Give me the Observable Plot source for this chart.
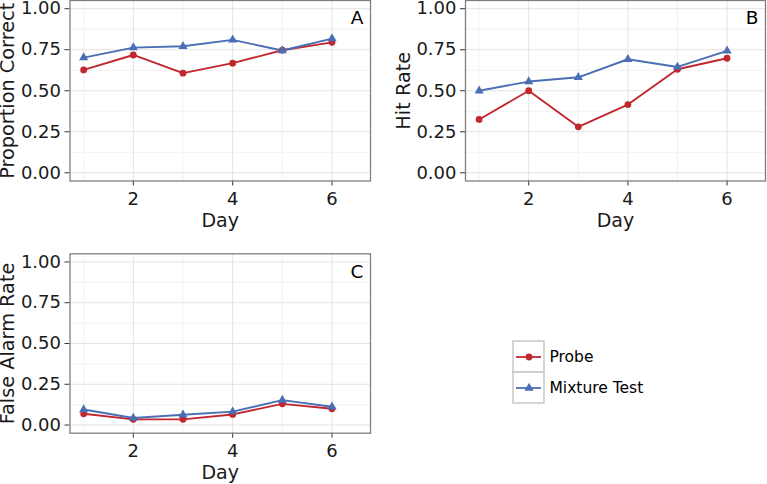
<!DOCTYPE html>
<html><head><meta charset="utf-8">
<script src="https://cdn.jsdelivr.net/npm/d3@7"></script>
<script src="https://cdn.jsdelivr.net/npm/@observablehq/plot@0.6"></script>
<style>
body{margin:0;background:#fff}
#chart{position:relative;width:767px;height:484px;overflow:hidden;background:#fff}
#chart svg{position:absolute;overflow:visible}
</style></head><body><div id="chart"></div>
<script>
const days = [1, 2, 3, 4, 5, 6];
const seriesNames = ["Probe", "Mixture Test"];
const seriesColors = ["#c1272d", "#4a6fb5"];
const seriesSymbols = ["circle", "triangle"];
const propCorrectProbe   = [0.627, 0.718, 0.607, 0.668, 0.747, 0.795];
const propCorrectMixture = [0.702, 0.763, 0.771, 0.810, 0.745, 0.818];
const hitRateProbe       = [0.325, 0.500, 0.280, 0.416, 0.631, 0.698];
const hitRateMixture     = [0.500, 0.556, 0.582, 0.692, 0.645, 0.743];
const faRateProbe        = [0.069, 0.035, 0.035, 0.065, 0.130, 0.100];
const faRateMixture      = [0.095, 0.043, 0.063, 0.082, 0.153, 0.112];
const yTicks = [0, 0.25, 0.5, 0.75, 1];
const yMinor = [0.125, 0.375, 0.625, 0.875];
const xTicks = [2, 4, 6];
const xMinor = [1, 3, 5];
const xDomain = [0.725, 6.775];
const yDomain = [-0.05, 1.05];
const panelLetters = ["A", "B", "C"];
const yLabels = ["Proportion Correct", "Hit Rate", "False Alarm Rate"];
const xLabel = "Day";

const FONT = "DejaVu Sans";
const chart = document.getElementById("chart");

function rowsFor(probe, mixture) {
  const rows = [];
  days.forEach((d, i) => rows.push({day: d, value: probe[i], series: seriesNames[0]}));
  days.forEach((d, i) => rows.push({day: d, value: mixture[i], series: seriesNames[1]}));
  return rows;
}

function panel(o) {
  const rows = rowsFor(o.probe, o.mixture);
  const svg = Plot.plot({
    width: o.width, height: o.height,
    marginLeft: o.marginLeft, marginRight: o.marginRight,
    marginTop: o.marginTop, marginBottom: o.marginBottom,
    style: {fontFamily: FONT, fontSize: "18px", color: "#1a1a1a", background: "transparent", overflow: "visible"},
    x: {domain: xDomain},
    y: {domain: yDomain},
    color: {domain: seriesNames, range: seriesColors},
    symbol: {domain: seriesNames, range: seriesSymbols},
    marks: [
      Plot.gridX(xMinor, {stroke: "#f2f2f2", strokeOpacity: 1, strokeWidth: 1}),
      Plot.gridY(yMinor, {stroke: "#f2f2f2", strokeOpacity: 1, strokeWidth: 1}),
      Plot.gridX(xTicks, {stroke: "#e3e3e3", strokeOpacity: 1, strokeWidth: 1}),
      Plot.gridY(yTicks, {stroke: "#e3e3e3", strokeOpacity: 1, strokeWidth: 1}),
      Plot.axisX({ticks: xTicks, tickFormat: d3.format("d"), tickSize: 5, tickPadding: 6, fontSize: 18, stroke: "#333", label: null}),
      Plot.axisX([], {fontSize: 19, label: xLabel, labelAnchor: "center", labelOffset: 46, labelArrow: "none", tickSize: 0}),
      Plot.axisY({ticks: yTicks, tickFormat: d3.format(".2f"), tickSize: 5, tickPadding: 4, fontSize: 18, stroke: "#333", label: null}),
      Plot.axisY([], {fontSize: 19.3, label: o.yLabel, labelAnchor: "center", labelOffset: 69.5, labelArrow: "none", tickSize: 0}),
      Plot.line(rows, {x: "day", y: "value", z: "series", stroke: "series", strokeWidth: 1.9}),
      Plot.dot(rows, {x: "day", y: "value", fill: "series", symbol: "series", r: 3.4, stroke: null}),
      Plot.text([o.letter], {frameAnchor: "top-right", textAnchor: "end", lineAnchor: "middle",
        dx: -7, dy: 18, fontSize: 18.5, text: d => d, fill: "#000"}),
      Plot.frame({stroke: "#7f7f7f", strokeWidth: 1.3})
    ]
  });
  svg.style.left = o.left + "px";
  svg.style.top = o.top + "px";
  chart.appendChild(svg);
}

panel({probe: propCorrectProbe, mixture: propCorrectMixture, yLabel: yLabels[0], letter: panelLetters[0],
  left: 0, top: 0, width: 380, height: 232, marginLeft: 69.5, marginRight: 10, marginTop: 0, marginBottom: 51.5});
panel({probe: hitRateProbe, mixture: hitRateMixture, yLabel: yLabels[1], letter: panelLetters[1],
  left: 380, top: 0, width: 387, height: 232, marginLeft: 85, marginRight: 2, marginTop: 0, marginBottom: 51.5});
panel({probe: faRateProbe, mixture: faRateMixture, yLabel: yLabels[2], letter: panelLetters[2],
  left: 0, top: 240, width: 380, height: 244, marginLeft: 69.5, marginRight: 10, marginTop: 13.3, marginBottom: 51.3});

// Legend drawn with Plot: one key box per series
const legend = Plot.plot({
  width: 200, height: 72, margin: 0,
  style: {fontFamily: FONT, fontSize: "15.5px", color: "#000", background: "transparent", overflow: "visible"},
  x: {type: "band", domain: ["key"], range: [8, 39], padding: 0, axis: null},
  y: {type: "band", domain: seriesNames, range: [5.7, 67.7], padding: 0, axis: null},
  color: {domain: seriesNames, range: seriesColors},
  symbol: {domain: seriesNames, range: seriesSymbols},
  marks: [
    Plot.cell(seriesNames, {x: () => "key", y: d => d, fill: "#fff", stroke: "#c8c8c8", strokeWidth: 1.5}),
    Plot.tickY(seriesNames, {x: () => "key", y: d => d, stroke: d => d, strokeWidth: 1.8, insetLeft: 3, insetRight: 3}),
    Plot.dot(seriesNames, {x: () => "key", y: d => d, fill: d => d, symbol: d => d, r: 3.4}),
    Plot.text(seriesNames, {x: () => "key", y: d => d, text: d => d, textAnchor: "start", dx: 20.5, fill: "#000"})
  ]
});
legend.style.left = "505px";
legend.style.top = "335px";
chart.appendChild(legend);
</script></body></html>
